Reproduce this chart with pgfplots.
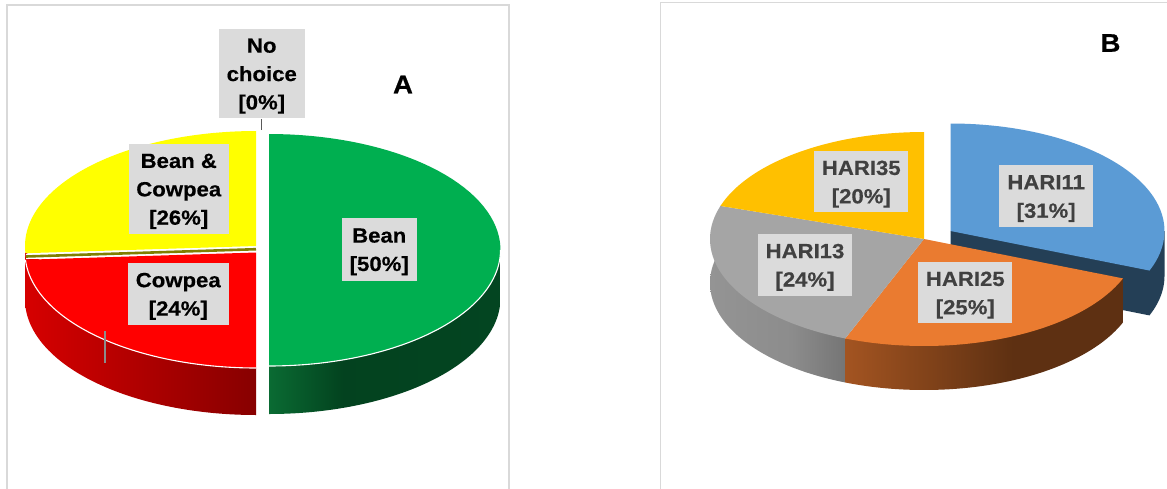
\documentclass[border=0pt]{standalone}
\usepackage{fontspec}
\setmainfont[FakeStretch=1.08,BoldFeatures={FakeStretch=1.08,FakeBold=0.5}]{Liberation Sans}
\usepackage{pgfplots}
\usepackage{pgfplotstable}
\pgfplotsset{compat=1.18}

\definecolor{frameGray}{HTML}{D9D9D9}
\definecolor{labelGray}{HTML}{DBDBDB}
\definecolor{labelText}{HTML}{404040}
\definecolor{faceGreen}{HTML}{00AF50}
\definecolor{faceRed}{HTML}{FF0000}
\definecolor{faceYellow}{HTML}{FFFF00}
\definecolor{cutOlive}{HTML}{7F7F00}
\definecolor{faceBlue}{HTML}{5B9BD5}
\definecolor{faceOrange}{HTML}{EA7B30}
\definecolor{faceGray}{HTML}{A5A5A5}
\definecolor{faceGold}{HTML}{FFC000}
\definecolor{wallBlue}{HTML}{243F56}

\pgfdeclarehorizontalshading{wallRed}{100bp}{
  rgb(0bp)=(0.84,0,0); rgb(25bp)=(0.84,0,0); rgb(75bp)=(0.53,0,0); rgb(100bp)=(0.53,0,0)}
\pgfdeclarehorizontalshading{wallGreen}{100bp}{
  rgb(0bp)=(0.04,0.42,0.20); rgb(25bp)=(0.04,0.42,0.20); rgb(41bp)=(0.01,0.26,0.12);
  rgb(75bp)=(0.01,0.27,0.13); rgb(100bp)=(0.01,0.27,0.13)}
\pgfdeclarehorizontalshading{wallGray}{100bp}{
  rgb(0bp)=(0.58,0.58,0.58); rgb(25bp)=(0.58,0.58,0.58); rgb(55bp)=(0.55,0.55,0.55);
  rgb(75bp)=(0.46,0.46,0.46); rgb(100bp)=(0.46,0.46,0.46)}
\pgfdeclarehorizontalshading{wallOrange}{100bp}{
  rgb(0bp)=(0.64,0.33,0.13); rgb(25bp)=(0.64,0.33,0.13); rgb(55bp)=(0.37,0.19,0.07);
  rgb(75bp)=(0.37,0.19,0.07); rgb(100bp)=(0.37,0.19,0.07)}

% Shares of each pie, in per cent, clockwise from twelve o'clock
\pgfplotstableread{
share
50
24
26
0
}\pieA
\pgfplotstableread{
share
31
25
24
20
}\pieB

% Flat top of a slice: centre x, centre y, radii, start and end angle, style
\newcommand{\sliceface}[7]{
  \addplot[#7, draw=none, domain=#5:#6, samples=70, variable=\t, no marks]
    ({#1+#3*cos(\t)},{#2-#4*sin(\t)}) -- (axis cs:#1,#2) -- cycle;
}
% Outer wall of a slice, lowered by the pie's thickness
\newcommand{\slicewall}[8]{
  \addplot[#8, draw=none, domain=#5:#6, samples=70, variable=\t, no marks]
    ({#1+#3*cos(\t)},{#2+#7-#4*sin(\t)})
    -- (axis cs:{#1+#3*cos(#6)},{#2-#4*sin(#6)})
    -- (axis cs:{#1+#3*cos(#5)},{#2-#4*sin(#5)}) -- cycle;
}
% White rim along the front of a face
\newcommand{\slicerim}[6]{
  \addplot[white, line width=1.1pt, domain=#5:#6, samples=70, variable=\t, no marks]
    ({#1+#3*cos(\t)},{#2-#4*sin(\t)});
}
% Grey data label given by its box edges, its text sitting a little low in the box
\newcommand{\databox}[7]{
  \node[fill=labelGray, inner sep=0pt,
        minimum width={(#2-#1)*1pt}, minimum height={(#4-#3)*1pt}]
    at (axis cs:{(#1+#2)/2},{(#3+#4)/2}) {};
  \node[inner sep=0pt, align=center, text=#5,
        font=\fontsize{20.5}{28.4}\selectfont\bfseries]
    at (axis cs:{(#1+#2)/2},{(#3+#4)/2+#6}) {#7};
}

\begin{document}
\begin{tikzpicture}
\pgfplotstablegetelem{0}{share}\of\pieA \pgfmathsetmacro\aA{90-3.6*\pgfplotsretval}
\pgfplotstablegetelem{1}{share}\of\pieA \pgfmathsetmacro\aB{\aA-3.6*\pgfplotsretval}
\pgfplotstablegetelem{0}{share}\of\pieB \pgfmathsetmacro\bA{90-3.6*\pgfplotsretval}
\pgfplotstablegetelem{1}{share}\of\pieB \pgfmathsetmacro\bB{\bA-3.6*\pgfplotsretval}
\pgfplotstablegetelem{2}{share}\of\pieB \pgfmathsetmacro\bC{\bB-3.6*\pgfplotsretval}
\pgfplotstablegetelem{3}{share}\of\pieB \pgfmathsetmacro\bD{\bC-3.6*\pgfplotsretval}
\begin{axis}[
  width=1167pt, height=488pt, scale only axis,
  xmin=0, xmax=1167, ymin=0, ymax=488, y dir=reverse,
  hide axis, clip=true,
]
% page background
\addplot[fill=white, draw=none] coordinates {(0,0) (1167,0) (1167,488) (0,488)} -- cycle;
% panel frames
\addplot[frameGray, line width=1.5pt, no marks] coordinates {(7,495) (7,5) (509,5) (509,495)};
\addplot[frameGray, line width=1.5pt, no marks] coordinates {(660.5,495) (660.5,2.5) (1175,2.5)};

% Panel A: walls
\slicewall{269}{250}{231.5}{116}{-90}{0}{48}{shading=wallGreen}
\slicewall{256}{252.5}{231}{115.5}{180}{270}{47}{shading=wallRed}
% Panel A: faces
\sliceface{269}{250}{231.5}{116}{90}{\aA}{fill=faceGreen}
\slicerim{269}{250}{231.5}{116}{0}{-90}
\sliceface{256}{246}{231}{115}{90}{\aB+360}{fill=faceYellow}
\addplot[white, line width=5pt, no marks] coordinates {(256,249.3) (26,256.6)};
\addplot[cutOlive, line width=2.6pt, no marks] coordinates {(256,249.2) (26,256.5)};
\sliceface{256}{252.5}{231}{115.5}{\aB+360}{\aA+360}{fill=faceRed}
\slicerim{256}{252.5}{231}{115.5}{\aB+360}{\aA+360}
% Panel A: leader lines
\addplot[black!65, line width=0.8pt, no marks] coordinates {(261,119) (261,130)};
\addplot[black!45, line width=1.5pt, no marks] coordinates {(105,331) (105,363)};

% Panel B: the pulled-out slice sits behind the rest
\addplot[fill=wallBlue, draw=none, domain=\bA:0, samples=40, variable=\t, no marks]
  ({950.5+214*cos(\t)},{276-107*sin(\t)})
  -- (axis cs:1164.5,231) -- (axis cs:950.5,231) -- (axis cs:950.5,276) -- cycle;
\sliceface{950.5}{231}{214}{107.5}{90}{\bA}{fill=faceBlue}
% Panel B: walls of the remaining slices
\slicewall{924}{239}{214}{107}{\bC+360}{\bB+360}{44}{shading=wallGray}
\slicewall{924}{239}{214}{107}{\bB+360}{\bA+360}{44}{shading=wallOrange}
% Panel B: faces
\sliceface{924}{239}{214}{107}{\bA}{\bB}{fill=faceOrange}
\sliceface{924}{239}{214}{107}{\bB}{\bC}{fill=faceGray}
\sliceface{924}{239}{214}{107}{\bC}{\bD}{fill=faceGold}

% Labels
\databox{218.5}{305}{29}{118}{black}{2.6}{No\\choice\\{[0\%]}}
\databox{129}{228.5}{144}{233.5}{black}{2.6}{Bean \&\\Cowpea\\{[26\%]}}
\databox{128}{228.5}{263}{324.5}{black}{2.6}{Cowpea\\{[24\%]}}
\databox{341.5}{417}{218}{280.5}{black}{2.6}{Bean\\{[50\%]}}
\databox{999}{1093.3}{165}{227}{labelText}{2.6}{HARI11\\{[31\%]}}
\databox{918.3}{1012.3}{261.7}{323.3}{labelText}{2.6}{HARI25\\{[25\%]}}
\databox{758}{852}{233.7}{295.7}{labelText}{2.6}{HARI13\\{[24\%]}}
\databox{814.3}{908.3}{150.7}{212.3}{labelText}{2.6}{HARI35\\{[20\%]}}

% Panel letters
\node[font=\fontsize{25.5}{28}\selectfont\bfseries] at (axis cs:403,84.5) {A};
\node[font=\fontsize{25.5}{28}\selectfont\bfseries] at (axis cs:1110.5,43) {B};
\end{axis}
\end{tikzpicture}
\end{document}
